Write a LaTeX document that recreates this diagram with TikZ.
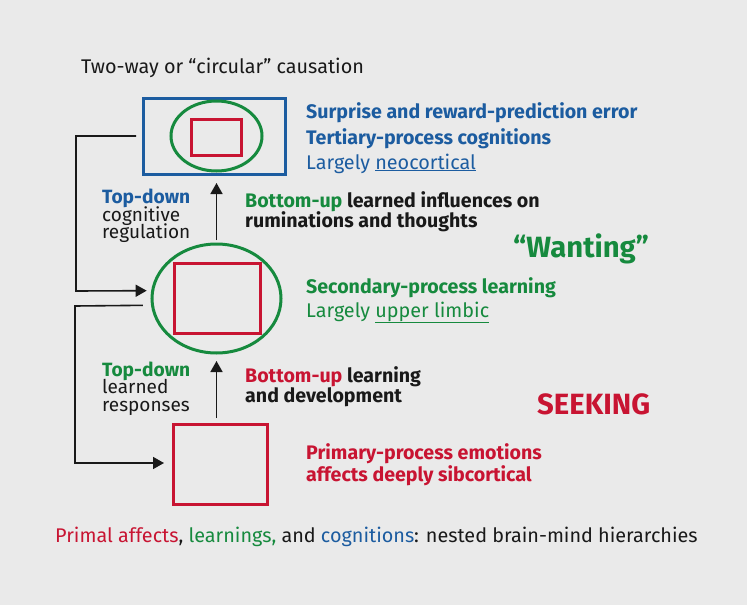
\documentclass[tikz,border=0pt]{standalone}
\usepackage{fontspec}
\setmainfont{Fira Sans}
\usetikzlibrary{arrows.meta,shapes.geometric}
\definecolor{bgC}{RGB}{234,234,234}
\definecolor{blueC}{RGB}{28,92,160}
\definecolor{greenC}{RGB}{22,138,62}
\definecolor{redC}{RGB}{200,20,50}
\definecolor{inkC}{RGB}{25,25,25}
\begin{document}
\begin{tikzpicture}[x=1pt,y=-1pt,
  frame/.style={draw, line width=3pt, inner sep=0pt, outer sep=0pt},
  conn/.style={draw=inkC, line width=1.6pt, -{Triangle[length=11pt,width=12pt]}},
  txt/.style={anchor=base west, inner sep=0pt, text=inkC, font=\fontsize{19.8}{22}\selectfont},
  btxt/.style={txt, font=\fontsize{19.6}{22}\selectfont\bfseries},
  bigtxt/.style={txt, font=\fontsize{29.3}{32}\selectfont\bfseries},
  stxt/.style={txt, font=\fontsize{19}{20}\selectfont, text depth=3pt},
  sbtxt/.style={txt, font=\fontsize{19.2}{20}\selectfont\bfseries, text depth=3pt},
]
\fill[bgC] (0,0) rectangle (747,605);
\useasboundingbox (0,0) rectangle (747,605);

% shapes
\node[frame, draw=blueC, rectangle, minimum width=142pt, minimum height=76pt] (topbox) at (214,136) {};
\node[frame, draw=greenC, ellipse, minimum width=91pt, minimum height=70pt] (topell) at (216.5,136) {};
\node[frame, draw=redC, rectangle, minimum width=50pt, minimum height=36pt] (toprect) at (216,137) {};

\node[frame, draw=greenC, ellipse, minimum width=129pt, minimum height=109pt] (midell) at (216.5,298.5) {};
\node[frame, draw=redC, rectangle, minimum width=86pt, minimum height=70pt] (midrect) at (217,298) {};

\node[frame, draw=redC, rectangle, minimum width=94pt, minimum height=80pt] (botbox) at (220,464) {};

% vertical arrows
\draw[conn, shorten <=4pt, shorten >=9pt] (midell.north) -- (topbox.south -| midell.north);
\draw[conn, shorten <=6pt, shorten >=8pt] (botbox.north -| midell.south) -- (midell.south);

% loops
\coordinate (la) at (76,136);
\coordinate (lb) at (76,291);
\coordinate (lc) at (75,306);
\coordinate (ld) at (75,463);
\draw[conn, shorten <=7pt, shorten >=6pt] (topbox.west) -- (la) -- (lb) -- (midell.173.3);
\draw[conn, shorten <=9.6pt, shorten >=9pt] (midell.186.7) -- (lc) -- (ld) -- (botbox.west |- ld);

% texts
\node[txt] (title) at (81,73) {Two-way or “circular” causation};

\node[btxt, text=blueC] (s1) at (306,118) {Surprise and reward-prediction error};
\node[btxt, text=blueC] (s2) at (306,144) {Tertiary-process cognitions};
\node[txt, text=blueC] (s3) at (306,169) {Largely \underline{neocortical}};

\node[btxt] (b1) at (245,207) {\textcolor{greenC}{Bottom-up} learned influences on};
\node[btxt] (b2) at (245,227) {ruminations and thoughts};

\node[bigtxt, text=greenC] (want) at (513,257) {“Wanting”};

\node[btxt, text=greenC] (g1) at (306,293) {Secondary-process learning};
\node[txt, text=greenC] (g2) at (306,317) {Largely \underline{upper limbic}};

\node[btxt] (c1) at (245,382) {\textcolor{redC}{Bottom-up} learning};
\node[btxt] (c2) at (245,402) {and development};

\node[bigtxt, text=redC] (seek) at (537,414) {SEEKING};

\node[btxt, text=redC] (p1) at (306,459) {Primary-process emotions};
\node[btxt, text=redC] (p2) at (306,481) {affects deeply sibcortical};

\node[sbtxt, text=blueC] (t1) at (102,203) {Top-down};
\node[stxt] (t2) at (102,221) {cognitive};
\node[stxt] (t3) at (102,238.5) {regulation};

\node[sbtxt, text=greenC] (u1) at (102,376) {Top-down};
\node[stxt] (u2) at (102,393.5) {learned};
\node[stxt] (u3) at (102,411) {responses};

\node[txt] (cap) at (55,542) {\textcolor{redC}{Primal affects}, \textcolor{greenC}{learnings,} and \textcolor{blueC}{cognitions}: nested brain-mind hierarchies};
\end{tikzpicture}
\end{document}
